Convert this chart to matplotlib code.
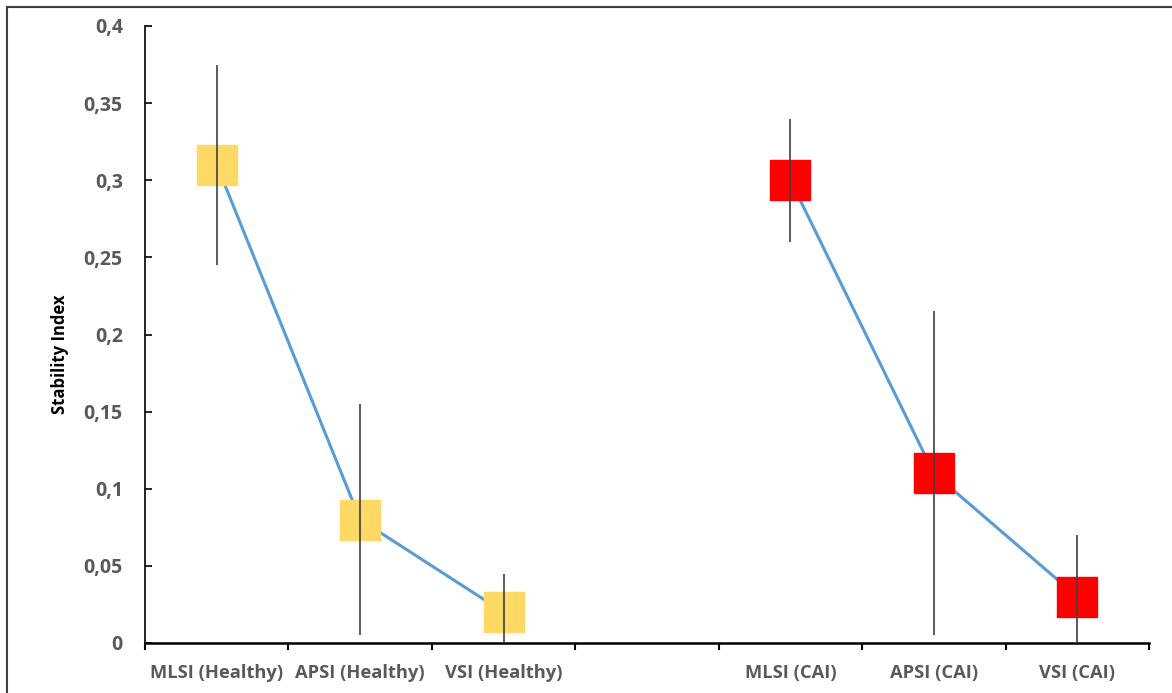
import numpy as np
import matplotlib.pyplot as plt
from matplotlib.lines import Line2D
from matplotlib.ticker import FuncFormatter

plt.rcParams['font.family'] = ['Open Sans', 'DejaVu Sans']

categories = ["MLSI (Healthy)", "APSI (Healthy)", "VSI (Healthy)", "",
              "MLSI (CAI)", "APSI (CAI)", "VSI (CAI)"]
healthy_pos = [0, 1, 2]
cai_pos = [4, 5, 6]
healthy_vals = [0.31, 0.08, 0.02]
healthy_err = [0.065, 0.075, 0.025]
cai_vals = [0.30, 0.11, 0.03]
cai_err = [0.04, 0.105, 0.04]

W, H = 1172, 693
fig = plt.figure(figsize=(W / 100, H / 100), dpi=100)
ax = fig.add_axes([145 / W, 1 - 643 / H, (1149 - 145) / W, (643 - 26) / H])

line_col = '#5B9BD5'
err_col = '#404040'

for pos, vals, errs, col in [(healthy_pos, healthy_vals, healthy_err, '#FFD966'),
                             (cai_pos, cai_vals, cai_err, '#FF0000')]:
    ax.plot(pos, vals, color=line_col, lw=2.2, zorder=2)
    ax.plot(pos, vals, 's', ms=29, color=col, mec=col, zorder=3)
    ax.errorbar(pos, vals, yerr=errs, fmt='none', ecolor=err_col,
                elinewidth=1.2, capsize=0, zorder=4, clip_on=True)

ax.set_xlim(-0.5, 6.5)
ax.set_ylim(0, 0.4)
ax.set_yticks(np.arange(0, 0.401, 0.05))
ax.yaxis.set_major_formatter(FuncFormatter(
    lambda v, p: ('%g' % round(v, 2)).replace('.', ',')))
ax.set_xticks(range(7))
ax.set_xticklabels(categories)
ax.set_xticks(np.arange(-0.5, 6.6, 1), minor=True)

ax.tick_params(axis='x', which='major', length=0, pad=15,
               labelsize=13.2, labelcolor='#595959')
ax.tick_params(axis='x', which='minor', length=5, width=1.5, direction='out', color='black')
ax.tick_params(axis='y', which='major', length=5, width=1.2, direction='in',
               pad=16, labelsize=14, labelcolor='#595959')
for lab in ax.get_xticklabels() + ax.get_yticklabels():
    lab.set_fontweight('bold')

for s in ['top', 'right']:
    ax.spines[s].set_visible(False)
ax.spines['left'].set_linewidth(1.2)
ax.spines['bottom'].set_linewidth(1.8)

fig.text(60 / W, 1 - 354 / H, "Stability Index", rotation=90, ha='center',
         va='center', fontsize=12, fontweight='bold', color='black')

# outer frame (left and top edges visible)
fig.add_artist(Line2D([7 / W, 7 / W], [0, 1 - 7 / H], transform=fig.transFigure,
                      color='#404040', lw=1.5))
fig.add_artist(Line2D([7 / W, 1], [1 - 7 / H, 1 - 7 / H], transform=fig.transFigure,
                      color='#404040', lw=1.5))

fig.savefig('out.png', dpi=100)
